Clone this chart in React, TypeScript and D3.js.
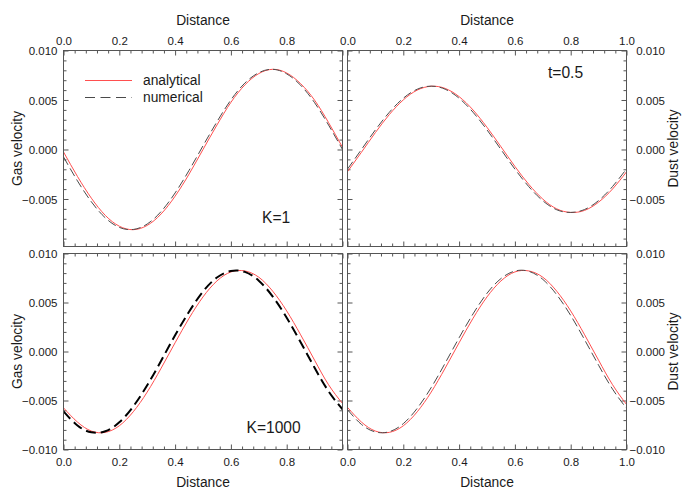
import React, { useEffect, useRef } from "react";
import * as d3 from "d3";

const distance = [0, 0.05, 0.1, 0.15, 0.2, 0.25, 0.3, 0.35, 0.4, 0.45, 0.5, 0.55, 0.6, 0.65, 0.7, 0.75, 0.8, 0.85, 0.9, 0.95, 1.0];

const gasK1Analytical = [-0.00025, -0.00272, -0.00492, -0.00666, -0.00775, -0.0081, -0.00767, -0.00651, -0.00472, -0.00249, 0.0, 0.00247, 0.00476, 0.00652, 0.00767, 0.0081, 0.00773, 0.00665, 0.00498, 0.00272, 0.00022];
const gasK1Numerical = [-0.00075, -0.00317, -0.00529, -0.00691, -0.00787, -0.00808, -0.00753, -0.00626, -0.00439, -0.00211, 0.00037, 0.0028, 0.00501, 0.00671, 0.00776, 0.0081, 0.00764, 0.00649, 0.00473, 0.00247, 0.0];

const dustT05Analytical = [-0.00224, -0.00028, 0.00171, 0.00353, 0.00501, 0.006, 0.00639, 0.00617, 0.00534, 0.00399, 0.00224, 0.00028, -0.00171, -0.00353, -0.00501, -0.006, -0.00636, -0.00615, -0.00532, -0.00399, -0.00226];
const dustT05Numerical = [-0.00198, 0.0, 0.00198, 0.00376, 0.00518, 0.00609, 0.0064, 0.00609, 0.00518, 0.00376, 0.00198, 0.0, -0.00198, -0.00376, -0.00518, -0.00609, -0.00636, -0.00606, -0.00516, -0.00374, -0.00196];

const gasK1000Analytical = [-0.00575, -0.0072, -0.00812, -0.00825, -0.00758, -0.00615, -0.00414, -0.0017, 0.00089, 0.00339, 0.00557, 0.0072, 0.00812, 0.00822, 0.00758, 0.00615, 0.00414, 0.0017, -0.00089, -0.00339, -0.0053];
const gasK1000Numerical = [-0.0061, -0.00755, -0.00825, -0.00814, -0.00723, -0.0056, -0.00345, -0.00094, 0.00166, 0.00406, 0.00612, 0.00755, 0.00822, 0.00812, 0.00723, 0.0056, 0.00345, 0.00094, -0.00166, -0.00406, -0.0059];

const dustK1000Analytical = [-0.0057, -0.0072, -0.00812, -0.00825, -0.00758, -0.00615, -0.00414, -0.0017, 0.00089, 0.00339, 0.00557, 0.0072, 0.00812, 0.00822, 0.00758, 0.00615, 0.00414, 0.0017, -0.00089, -0.00339, -0.0054];
const dustK1000Numerical = [-0.00594, -0.00744, -0.00821, -0.00818, -0.00736, -0.00579, -0.00368, -0.00119, 0.0014, 0.00384, 0.00594, 0.00744, 0.00821, 0.00818, 0.00736, 0.00579, 0.00368, 0.00119, -0.0014, -0.00384, -0.0058];

const xMajorTicks = [0, 0.2, 0.4, 0.6, 0.8, 1.0];
const xMinorTicks = [0.04, 0.08, 0.12, 0.16, 0.24, 0.28, 0.32, 0.36, 0.44, 0.48, 0.52, 0.56, 0.64, 0.68, 0.72, 0.76, 0.84, 0.88, 0.92, 0.96];
const yMajorTicks = [-0.01, -0.005, 0, 0.005, 0.01];
const yMinorTicks = [-0.009, -0.008, -0.007, -0.006, -0.004, -0.003, -0.002, -0.001, 0.001, 0.002, 0.003, 0.004, 0.006, 0.007, 0.008, 0.009];

const legendLabels = ["analytical", "numerical"];
const FONT = "'Liberation Sans', Arial, Helvetica, sans-serif";
const RED = "#ff4f4f";
const FRAME = "#555";
const TEXT = "#1a1a1a";

type Panel = {
  id: string;
  left: number; right: number; top: number; bottom: number;
  yMin: number;
  analytical: number[];
  numerical: number[];
  numColor: string; numWidth: number; numDash: string;
  side: "left" | "right";
  topLabels: boolean;
  xLabelMax: number;
  yTitle: string;
  xTitle: "top" | "bottom";
  note?: { text: string; x: number; y: number };
};

const panels: Panel[] = [
  { id: "tl", left: 63.5, right: 342.5, top: 50.5, bottom: 246.5, yMin: -0.0098, analytical: gasK1Analytical, numerical: gasK1Numerical, numColor: "#4a4a4a", numWidth: 1, numDash: "9,4", side: "left", topLabels: true, xLabelMax: 0.8, yTitle: "Gas velocity", xTitle: "top", note: { text: "K=1", x: 262, y: 223 } },
  { id: "tr", left: 347.5, right: 626.5, top: 50.5, bottom: 246.5, yMin: -0.0098, analytical: dustT05Analytical, numerical: dustT05Numerical, numColor: "#4a4a4a", numWidth: 1, numDash: "9,4", side: "right", topLabels: true, xLabelMax: 1.0, yTitle: "Dust velocity", xTitle: "top", note: { text: "t=0.5", x: 548, y: 78 } },
  { id: "bl", left: 63.5, right: 342.5, top: 253.5, bottom: 449.5, yMin: -0.01, analytical: gasK1000Analytical, numerical: gasK1000Numerical, numColor: "#000", numWidth: 2, numDash: "10,5", side: "left", topLabels: false, xLabelMax: 0.8, yTitle: "Gas velocity", xTitle: "bottom", note: { text: "K=1000", x: 246.5, y: 433 } },
  { id: "br", left: 347.5, right: 626.5, top: 253.5, bottom: 449.5, yMin: -0.01, analytical: dustK1000Analytical, numerical: dustK1000Numerical, numColor: "#4a4a4a", numWidth: 1, numDash: "9,4", side: "right", topLabels: false, xLabelMax: 1.0, yTitle: "Dust velocity", xTitle: "bottom" },
];

export default function App() {
  const ref = useRef<SVGSVGElement>(null);

  useEffect(() => {
    const svg = d3.select(ref.current);
    svg.selectAll("*").remove();
    svg.append("rect").attr("width", 683).attr("height", 489).attr("fill", "#fff");

    panels.forEach((p) => {
      const x = d3.scaleLinear().domain([0, 1]).range([p.left, p.right]);
      const y = d3.scaleLinear().domain([p.yMin, 0.01]).range([p.bottom, p.top]);
      const g = svg.append("g");

      g.append("rect").attr("x", p.left).attr("y", p.top).attr("width", p.right - p.left).attr("height", p.bottom - p.top).attr("fill", "#fff");

      const clipId = "clip-" + p.id;
      svg.append("clipPath").attr("id", clipId).append("rect").attr("x", p.left).attr("y", p.top).attr("width", p.right - p.left).attr("height", p.bottom - p.top);

      const styleAxis = (sel: any) => {
        sel.select(".domain").remove();
        sel.selectAll(".tick line").attr("stroke", FRAME).attr("stroke-width", 1);
        sel.selectAll(".tick text").attr("fill", TEXT).attr("font-family", FONT).attr("font-size", 11.5);
      };

      const yVisibleMajor = yMajorTicks.filter((v) => v >= p.yMin - 1e-9);
      const yVisibleMinor = yMinorTicks.filter((v) => v >= p.yMin - 1e-9);

      // x axes, top & bottom
      [["top", p.top], ["bottom", p.bottom]].forEach(([side, pos]: any) => {
        const showLabels = side === "top" ? p.topLabels : !p.topLabels;
        const mk = side === "top" ? d3.axisTop(x) : d3.axisBottom(x);
        const major = g.append("g").attr("transform", `translate(0,${pos})`)
          .call(mk.tickValues(xMajorTicks).tickSizeInner(-5).tickSizeOuter(0).tickFormat((d: any) => (showLabels && d <= p.xLabelMax + 1e-9 ? d3.format(".1f")(d) : "")));
        styleAxis(major);
        if (side === "top") major.selectAll(".tick text").attr("y", -5.5).attr("dy", "0");
        else major.selectAll(".tick text").attr("y", 16.8).attr("dy", "0");
        const mk2 = side === "top" ? d3.axisTop(x) : d3.axisBottom(x);
        const minor = g.append("g").attr("transform", `translate(0,${pos})`)
          .call(mk2.tickValues(xMinorTicks).tickSizeInner(-3).tickSizeOuter(0).tickFormat(() => ""));
        styleAxis(minor);
      });

      // y axes, left & right
      [["left", p.left], ["right", p.right]].forEach(([side, pos]: any) => {
        const showLabels = side === p.side;
        const mk = side === "left" ? d3.axisLeft(y) : d3.axisRight(y);
        const major = g.append("g").attr("transform", `translate(${pos},0)`)
          .call(mk.tickValues(yVisibleMajor).tickSizeInner(-5).tickSizeOuter(0).tickFormat((d: any) => (showLabels ? d3.format(".3f")(d).replace("-", "-") : "")));
        styleAxis(major);
        if (side === "left") major.selectAll(".tick text").attr("x", -6).attr("text-anchor", "end").attr("dy", "0.35em");
        else major.selectAll(".tick text").attr("x", 38.5).attr("text-anchor", "end").attr("dy", "0.35em");
        const mk2 = side === "left" ? d3.axisLeft(y) : d3.axisRight(y);
        const minor = g.append("g").attr("transform", `translate(${pos},0)`)
          .call(mk2.tickValues(yVisibleMinor).tickSizeInner(-3).tickSizeOuter(0).tickFormat(() => ""));
        styleAxis(minor);
      });

      // curves
      const line = d3.line<number>()
        .x((_, i) => x(distance[i]))
        .y((d) => y(d))
        .curve(d3.curveNatural);

      const curves = g.append("g").attr("clip-path", `url(#${clipId})`);
      curves.append("path").attr("d", line(p.analytical) as string).attr("fill", "none").attr("stroke", RED).attr("stroke-width", 1);
      curves.append("path").attr("d", line(p.numerical) as string).attr("fill", "none").attr("stroke", p.numColor).attr("stroke-width", p.numWidth).attr("stroke-dasharray", p.numDash);

      // frame
      g.append("rect").attr("x", p.left).attr("y", p.top).attr("width", p.right - p.left).attr("height", p.bottom - p.top).attr("fill", "none").attr("stroke", FRAME).attr("stroke-width", 1);

      // titles
      const cx = (p.left + p.right) / 2;
      const cy = (p.top + p.bottom) / 2;
      g.append("text").attr("x", cx).attr("y", p.xTitle === "top" ? 25 : 487).attr("text-anchor", "middle")
        .attr("font-family", FONT).attr("font-size", 13.8).attr("fill", TEXT).text("Distance");
      const yx = p.side === "left" ? 22 : 678;
      g.append("text").attr("transform", `translate(${yx},${cy}) rotate(-90)`).attr("text-anchor", "middle")
        .attr("font-family", FONT).attr("font-size", 13.8).attr("fill", TEXT).text(p.yTitle);

      if (p.note) {
        g.append("text").attr("x", p.note.x).attr("y", p.note.y).attr("font-family", FONT).attr("font-size", 15.6).attr("fill", TEXT).text(p.note.text);
      }

      if (p.id === "tl") {
        const lg = g.append("g");
        const rows = [
          { label: legendLabels[0], color: RED, dash: "none", w: 1, yy: 80.5 },
          { label: legendLabels[1], color: "#4a4a4a", dash: "10,5.5", w: 1, yy: 97.5 },
        ];
        rows.forEach((r) => {
          lg.append("line").attr("x1", 85).attr("x2", 132).attr("y1", r.yy).attr("y2", r.yy)
            .attr("stroke", r.color).attr("stroke-width", r.w).attr("stroke-dasharray", r.dash);
          lg.append("text").attr("x", 143).attr("y", r.yy + 4.8).attr("font-family", FONT).attr("font-size", 13.8).attr("fill", TEXT).text(r.label);
        });
      }
    });
  }, []);

  return (
    <svg ref={ref} width={683} height={489} style={{ position: "absolute", left: 0, top: 0, display: "block" }} />
  );
}
